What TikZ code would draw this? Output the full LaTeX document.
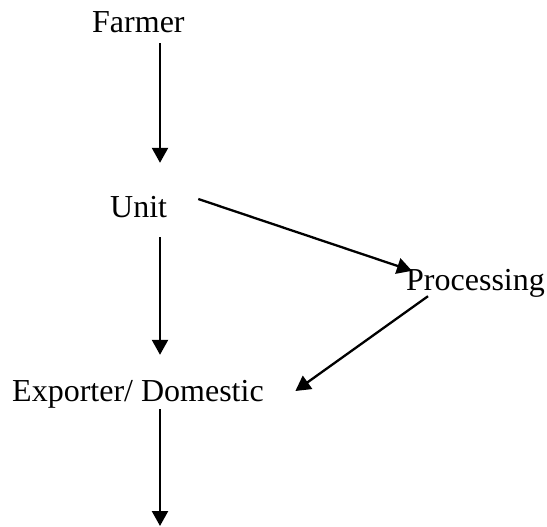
\documentclass[tikz,border=0pt]{standalone}
\usepackage{fontspec}
\setmainfont{Liberation Serif}
\usetikzlibrary{arrows.meta,calc}
\tikzset{
  label text/.style={inner sep=0pt, anchor=base west, text height=22pt, text depth=7pt,
    font=\fontsize{32}{38}\selectfont},
  flow/.style={line width=2.3pt, -{Triangle[length=15pt,width=16pt]}}
}
\begin{document}
\begin{tikzpicture}[x=1pt,y=-1pt]
  \useasboundingbox (0,0) rectangle (547,527);
  \coordinate (stem) at (160,0);
  \coordinate (sink) at (160,526);

  \node[label text] (farmer)     at (92,33)   {Farmer};
  \node[label text] (unit)       at (110,217) {Unit};
  \node[label text] (processing) at (406,290) {Processing};
  \node[label text] (exporter)   at (12,401)  {Exporter/ Domestic};

  \draw[flow] ($(farmer.south -| stem)+(0,3)$) -- ($(unit.north -| stem)+(0,-32)$);
  \draw[flow] ($(unit.south -| stem)+(0,13)$) -- ($(exporter.north -| stem)+(0,-24)$);
  \draw[flow] ($(exporter.south -| stem)+(0,1)$) -- (sink);
  \draw[flow] ($(unit.east)+(31,-10.5)$) -- ($(processing.north west)+(6,3)$);
  \draw[flow] ($(processing.south west)+(22,-1)$) -- ($(exporter.east)+(31.5,-2.5)$);
\end{tikzpicture}
\end{document}
